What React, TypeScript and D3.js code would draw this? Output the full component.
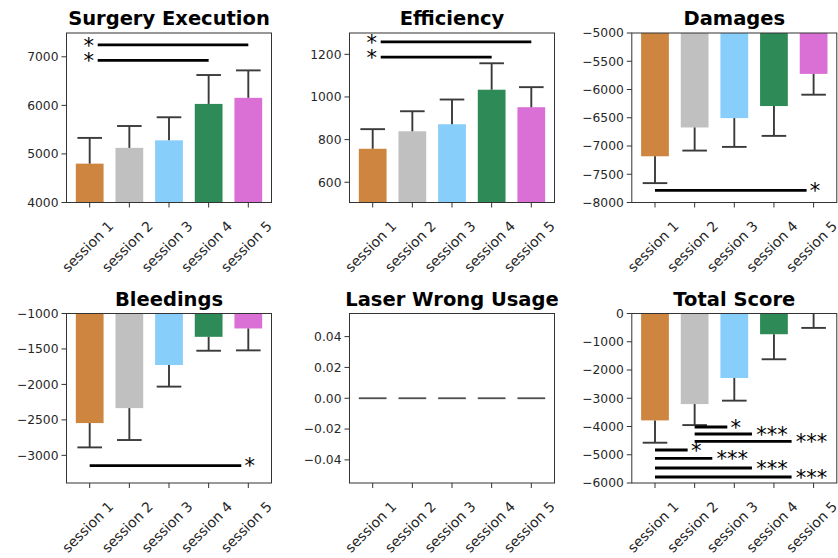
import React from "react";
import * as d3 from "d3";

const sessions = ["session 1", "session 2", "session 3", "session 4", "session 5"];
const barColors = ["#CD853F", "#C0C0C0", "#87CEFA", "#2E8B57", "#DA70D6"];

// means and standard deviations per metric
const surgeryMeans = [4800, 5125, 5280, 6030, 6155];
const surgerySd = [530, 450, 475, 595, 565];
const efficiencyMeans = [757, 839, 872, 1034, 952];
const efficiencySd = [92, 94, 116, 124, 94];
const damagesMeans = [-7182, -6672, -6506, -6293, -5724];
const damagesSd = [475, 409, 510, 528, 368];
const bleedingsMeans = [-2545, -2334, -1726, -1329, -1211];
const bleedingsSd = [343, 450, 305, 196, 309];
const laserMeans = [0, 0, 0, 0, 0];
const laserSd = [0, 0, 0, 0, 0];
const totalMeans = [-3784, -3206, -2284, -734, -15];
const totalSd = [790, 744, 801, 886, 495];

// y ticks
const surgeryTicks = [4000, 5000, 6000, 7000];
const efficiencyTicks = [600, 800, 1000, 1200];
const damagesTicks = [-8000, -7500, -7000, -6500, -6000, -5500, -5000];
const bleedingsTicks = [-3000, -2500, -2000, -1500, -1000];
const laserTicks = [-0.04, -0.02, 0, 0.02, 0.04];
const totalTicks = [-6000, -5000, -4000, -3000, -2000, -1000, 0];

// significance comparisons
type Sig = { from: number; to: number; label: string; y: number };
const surgerySig: Sig[] = [
  { from: 0, to: 4, label: "*", y: 7244 },
  { from: 0, to: 3, label: "*", y: 6928 },
];
const efficiencySig: Sig[] = [
  { from: 0, to: 4, label: "*", y: 1258 },
  { from: 0, to: 3, label: "*", y: 1187 },
];
const damagesSig: Sig[] = [{ from: 0, to: 4, label: "*", y: -7787 }];
const bleedingsSig: Sig[] = [{ from: 0, to: 4, label: "*", y: -3145 }];
const totalSig: Sig[] = [
  { from: 1, to: 2, label: "*", y: -4017 },
  { from: 1, to: 3, label: "***", y: -4265 },
  { from: 1, to: 4, label: "***", y: -4524 },
  { from: 0, to: 1, label: "*", y: -4832 },
  { from: 0, to: 2, label: "***", y: -5126 },
  { from: 0, to: 3, label: "***", y: -5469 },
  { from: 0, to: 4, label: "***", y: -5788 },
];

const FONT = "DejaVu Sans, sans-serif";
const minus = (s: string) => s.replace("-", "\u2212");

interface PanelCfg {
  title: string;
  means: number[];
  sd: number[];
  ticks: number[];
  fmt: (v: number) => string;
  domain: [number, number];
  sig: Sig[];
  starLeft: boolean;
  left: number;
  top: number;
  zeroBars?: boolean;
}

const W = 205;
const H = 169.5;

function Panel({ cfg }: { cfg: PanelCfg }) {
  const { left, top } = cfg;
  const right = left + W;
  const bottom = top + H;
  const x = d3.scaleLinear().domain([-0.585, 4.585]).range([left, right]);
  const y = d3.scaleLinear().domain(cfg.domain).range([bottom, top]);
  const bw = x(0.35) - x(0);
  const clamp = (v: number) => Math.max(cfg.domain[0], Math.min(cfg.domain[1], v));
  const capHalf = 12.3;
  const starSize = 21;

  return (
    <g>
      <text
        x={(left + right) / 2}
        y={top - 8}
        textAnchor="middle"
        fontFamily={FONT}
        fontWeight="bold"
        fontSize={19.5}
        fill="#000"
      >
        {cfg.title}
      </text>
      {/* bars */}
      {cfg.means.map((m, i) => {
        const y0 = y(clamp(0));
        const y1 = y(clamp(m));
        return (
          <rect
            key={"b" + i}
            x={x(i) - bw}
            y={Math.min(y0, y1)}
            width={bw * 2}
            height={Math.abs(y1 - y0)}
            fill={barColors[i]}
          />
        );
      })}
      {cfg.zeroBars &&
        cfg.means.map((m, i) => (
          <line
            key={"z" + i}
            x1={x(i) - bw}
            x2={x(i) + bw}
            y1={y(m)}
            y2={y(m)}
            stroke="#4d4d4d"
            strokeWidth={1.8}
          />
        ))}
      {/* error bars */}
      {!cfg.zeroBars &&
        cfg.means.map((m, i) => {
          const end = m >= 0 ? m + cfg.sd[i] : m - cfg.sd[i];
          return (
            <g key={"e" + i} stroke="#3a3a3a" strokeWidth={1.9}>
              <line x1={x(i)} x2={x(i)} y1={y(clamp(m))} y2={y(end)} />
              <line x1={x(i) - capHalf} x2={x(i) + capHalf} y1={y(end)} y2={y(end)} />
            </g>
          );
        })}
      {/* significance */}
      {cfg.sig.map((s, k) => {
        const yy = y(s.y);
        let x1: number, x2: number, tx: number;
        if (cfg.starLeft) {
          tx = x(s.from) - 1;
          x1 = x(s.from) + 8;
          x2 = x(s.to);
        } else {
          x1 = x(s.from);
          if (s.label.length === 1) {
            x2 = x(s.to) - 7;
            tx = x(s.to) + 1.5;
          } else {
            x2 = x(s.to) - 22;
            tx = x(s.to) - 2;
          }
        }
        return (
          <g key={"s" + k}>
            <line x1={x1} x2={x2} y1={yy} y2={yy} stroke="#000" strokeWidth={2.8} />
            <text
              x={tx}
              y={yy + starSize * 0.36}
              textAnchor="middle"
              fontFamily={FONT}
              fontSize={starSize}
              fill="#000"
            >
              {s.label}
            </text>
          </g>
        );
      })}
      {/* frame */}
      <rect x={left} y={top} width={W} height={H} fill="none" stroke="#333" strokeWidth={1} />
      {/* y axis */}
      {cfg.ticks.map((t) => (
        <g key={"yt" + t}>
          <line x1={left - 5} x2={left} y1={y(t)} y2={y(t)} stroke="#333" strokeWidth={1} />
          <text
            x={left - 8}
            y={y(t)}
            dy="0.36em"
            textAnchor="end"
            fontFamily={FONT}
            fontSize={12.3}
            fill="#262626"
          >
            {cfg.fmt(t)}
          </text>
        </g>
      ))}
      {/* x axis */}
      {sessions.map((s, i) => (
        <g key={"xt" + i}>
          <line x1={x(i)} x2={x(i)} y1={bottom} y2={bottom + 5} stroke="#333" strokeWidth={1} />
          <text
            transform={`translate(${x(i) - 2},${bottom + 44}) rotate(-45)`}
            textAnchor="middle"
            dy="0.35em"
            fontFamily={FONT}
            fontSize={14}
            fill="#262626"
          >
            {s}
          </text>
        </g>
      ))}
    </g>
  );
}

const intFmt = (v: number) => minus(d3.format("d")(v));
const decFmt = (v: number) => minus(d3.format(".2f")(v));

export default function App() {
  const cols = [66.5, 349.5, 631.8];
  const rows = [33, 313.5];
  const panels: PanelCfg[] = [
    { title: "Surgery Execution", means: surgeryMeans, sd: surgerySd, ticks: surgeryTicks, fmt: intFmt, domain: [4000, 7490], sig: surgerySig, starLeft: true, left: cols[0], top: rows[0] },
    { title: "Efficiency", means: efficiencyMeans, sd: efficiencySd, ticks: efficiencyTicks, fmt: intFmt, domain: [505, 1300], sig: efficiencySig, starLeft: true, left: cols[1], top: rows[0] },
    { title: "Damages", means: damagesMeans, sd: damagesSd, ticks: damagesTicks, fmt: intFmt, domain: [-8000, -5000], sig: damagesSig, starLeft: false, left: cols[2], top: rows[0] },
    { title: "Bleedings", means: bleedingsMeans, sd: bleedingsSd, ticks: bleedingsTicks, fmt: intFmt, domain: [-3390, -1000], sig: bleedingsSig, starLeft: false, left: cols[0], top: rows[1] },
    { title: "Laser Wrong Usage", means: laserMeans, sd: laserSd, ticks: laserTicks, fmt: decFmt, domain: [-0.055, 0.055], sig: [], starLeft: false, left: cols[1], top: rows[1], zeroBars: true },
    { title: "Total Score", means: totalMeans, sd: totalSd, ticks: totalTicks, fmt: intFmt, domain: [-6000, 0], sig: totalSig, starLeft: false, left: cols[2], top: rows[1] },
  ];
  return (
    <svg
      width={838}
      height={558}
      style={{ position: "absolute", left: 0, top: 0, background: "#fff" }}
    >
      <rect width={838} height={558} fill="#fff" />
      {panels.map((p) => (
        <Panel key={p.title} cfg={p} />
      ))}
    </svg>
  );
}
